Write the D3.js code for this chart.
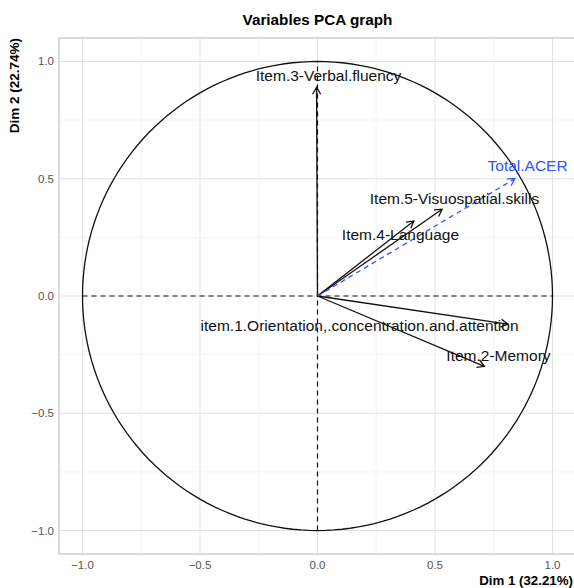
<!DOCTYPE html>
<html>
<head>
<meta charset="utf-8">
<script src="https://cdn.jsdelivr.net/npm/d3@7"></script>
<style>
  body { margin: 0; background: #fff; }
  text { font-family: "Liberation Sans", Arial, sans-serif; }
</style>
</head>
<body>
<div id="chart"></div>
<script>
// variable coordinates on Dim 1 / Dim 2
const varNames = ["Item.3-Verbal.fluency", "Item.5-Visuospatial.skills", "Item.4-Language",
                  "item.1.Orientation,.concentration.and.attention", "Item.2-Memory"];
const dim1 = [-0.004, 0.53, 0.41, 0.81, 0.71];
const dim2 = [0.89, 0.37, 0.32, -0.12, -0.30];
// where the labels sit (data units)
const labelX = [0.047, 0.583, 0.353, 0.179, 0.77];
const labelY = [0.94, 0.414, 0.26, -0.128, -0.252];

// supplementary variable
const supName = "Total.ACER";
const supDim1 = 0.84;
const supDim2 = 0.50;
const supLabelX = 0.894;
const supLabelY = 0.554;

const ticks = [-1.0, -0.5, 0.0, 0.5, 1.0];
const minorTicks = [-0.75, -0.25, 0.25, 0.75];

const width = 574, height = 588;
const svg = d3.select("#chart").append("svg")
    .attr("width", width)
    .attr("height", height);

const x = d3.scaleLinear().domain([-1.1, 1.1]).range([59, 576]);
const y = d3.scaleLinear().domain([-1.1, 1.1]).range([554, 38]);

const panel = svg.append("g");

// grid
panel.selectAll(".minx").data(minorTicks).enter().append("line")
    .attr("x1", d => x(d)).attr("x2", d => x(d))
    .attr("y1", y(-1.1)).attr("y2", y(1.1))
    .attr("stroke", "#efefef").attr("stroke-width", 0.6);
panel.selectAll(".miny").data(minorTicks).enter().append("line")
    .attr("y1", d => y(d)).attr("y2", d => y(d))
    .attr("x1", x(-1.1)).attr("x2", x(1.1))
    .attr("stroke", "#efefef").attr("stroke-width", 0.6);
panel.selectAll(".majx").data(ticks).enter().append("line")
    .attr("x1", d => x(d)).attr("x2", d => x(d))
    .attr("y1", y(-1.1)).attr("y2", y(1.1))
    .attr("stroke", "#e3e3e3").attr("stroke-width", 1);
panel.selectAll(".majy").data(ticks).enter().append("line")
    .attr("y1", d => y(d)).attr("y2", d => y(d))
    .attr("x1", x(-1.1)).attr("x2", x(1.1))
    .attr("stroke", "#e3e3e3").attr("stroke-width", 1);

// panel border
panel.append("rect")
    .attr("x", x(-1.1)).attr("y", y(1.1))
    .attr("width", x(1.1) - x(-1.1)).attr("height", y(-1.1) - y(1.1))
    .attr("fill", "none").attr("stroke", "#c4c4c4").attr("stroke-width", 1.2);

// unit circle
const angles = d3.range(0, 361, 2).map(a => a * Math.PI / 180);
panel.append("path")
    .datum(angles)
    .attr("d", d3.line().x(a => x(Math.cos(a))).y(a => y(Math.sin(a))))
    .attr("fill", "none").attr("stroke", "#111").attr("stroke-width", 1.3);

// dashed axes
panel.append("line")
    .attr("x1", x(-1)).attr("x2", x(1)).attr("y1", y(0)).attr("y2", y(0))
    .attr("stroke", "#111").attr("stroke-dasharray", "5,4").attr("stroke-width", 1.2);
panel.append("line")
    .attr("x1", x(0)).attr("x2", x(0)).attr("y1", y(-1)).attr("y2", y(1))
    .attr("stroke", "#111").attr("stroke-dasharray", "5,4").attr("stroke-width", 1.2);

function drawArrow(g, x1, y1, color, dash) {
    const x0 = x(0), y0 = y(0);
    const px = x(x1), py = y(y1);
    g.append("line")
        .attr("x1", x0).attr("y1", y0).attr("x2", px).attr("y2", py)
        .attr("stroke", color).attr("stroke-width", 1.3)
        .attr("stroke-dasharray", dash);
    const ang = Math.atan2(py - y0, px - x0);
    const len = 8, spread = Math.PI / 6;
    const head = [ang + Math.PI - spread, ang + Math.PI + spread]
        .map(a => [px + len * Math.cos(a), py + len * Math.sin(a)]);
    g.append("path")
        .attr("d", `M${head[0][0]},${head[0][1]}L${px},${py}L${head[1][0]},${head[1][1]}`)
        .attr("fill", "none").attr("stroke", color).attr("stroke-width", 1.3);
}

varNames.forEach((n, i) => drawArrow(panel, dim1[i], dim2[i], "#111", null));
drawArrow(panel, supDim1, supDim2, "#2f55ff", "5,4");

panel.selectAll(".lab").data(varNames).enter().append("text")
    .attr("x", (d, i) => x(labelX[i]))
    .attr("y", (d, i) => y(labelY[i]))
    .attr("dy", "0.35em")
    .attr("text-anchor", "middle")
    .attr("font-size", 15.5)
    .attr("fill", "#111")
    .text(d => d);

panel.append("text")
    .attr("x", x(supLabelX)).attr("y", y(supLabelY))
    .attr("dy", "0.35em")
    .attr("text-anchor", "middle")
    .attr("font-size", 15.5)
    .attr("fill", "#2f55ff")
    .text(supName);

// axes labels
const fmt = d3.format(".1f");
svg.selectAll(".xt").data(ticks).enter().append("text")
    .attr("x", d => x(d)).attr("y", 569)
    .attr("text-anchor", "middle").attr("font-size", 11.5).attr("fill", "#555")
    .text(d => fmt(d));
svg.selectAll(".yt").data(ticks).enter().append("text")
    .attr("x", 54).attr("y", d => y(d)).attr("dy", "0.35em")
    .attr("text-anchor", "end").attr("font-size", 11.5).attr("fill", "#555")
    .text(d => fmt(d));

svg.append("text")
    .attr("x", 573).attr("y", 585)
    .attr("text-anchor", "end").attr("font-size", 13.3).attr("font-weight", "bold")
    .attr("fill", "#000")
    .text("Dim 1 (32.21%)");

svg.append("text")
    .attr("transform", "translate(19,38) rotate(-90)")
    .attr("text-anchor", "end").attr("font-size", 13.5).attr("font-weight", "bold")
    .attr("fill", "#000")
    .text("Dim 2 (22.74%)");

svg.append("text")
    .attr("x", x(0)).attr("y", 25)
    .attr("text-anchor", "middle").attr("font-size", 15.3).attr("font-weight", "bold")
    .attr("fill", "#000")
    .text("Variables PCA graph");
</script>
</body>
</html>
